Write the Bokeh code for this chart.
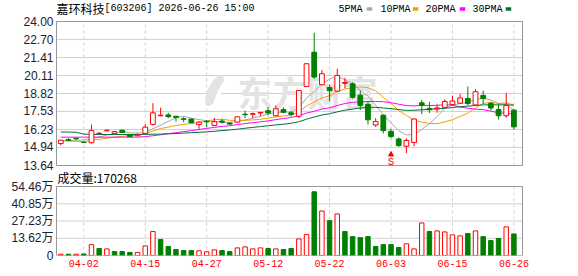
from bokeh.plotting import figure
from bokeh.models import Range1d, FixedTicker, ColumnDataSource
from bokeh.embed import file_html
from bokeh.resources import INLINE
from bokeh.core.properties import value

# ---------------- data ----------------
opens = [15.22, 15.50, 15.60, 15.32, 15.28, 15.93, 16.14, 15.95, 16.18, 15.87,
         15.78, 15.95, 16.60, 17.22, 17.28, 17.18, 17.00, 16.98, 16.58, 16.82,
         16.52, 16.84, 16.70, 16.76, 17.33, 17.33, 17.42, 17.58, 17.22, 17.66,
         17.43, 17.18, 19.32, 21.79, 19.45, 19.25, 18.99, 19.55, 19.52, 18.70,
         18.03, 16.55, 17.26, 16.10, 15.55, 15.03, 15.30, 18.15, 17.75, 17.72,
         17.82, 18.02, 18.12, 18.46, 18.00, 18.68, 18.10, 17.67, 17.22, 17.62]
highs = [15.48, 15.62, 15.66, 15.36, 16.58, 16.05, 16.24, 16.10, 16.20, 15.88,
         15.95, 16.62, 18.12, 17.80, 17.43, 17.22, 17.12, 17.02, 16.82, 16.88,
         17.07, 16.98, 16.72, 17.16, 17.58, 17.45, 17.48, 17.83, 17.95, 17.83,
         17.58, 19.06, 21.00, 23.19, 20.50, 19.45, 20.60, 19.95, 19.62, 19.03,
         18.25, 17.05, 17.30, 16.28, 15.65, 15.60, 17.02, 18.35, 18.22, 18.03,
         18.40, 18.66, 18.78, 19.32, 19.15, 19.02, 18.24, 18.10, 18.87, 17.70]
lows = [15.10, 15.40, 15.48, 15.26, 15.22, 15.85, 16.10, 15.92, 16.00, 15.70,
        15.75, 15.92, 16.52, 17.18, 17.05, 16.80, 16.76, 16.68, 16.28, 16.40,
        16.48, 16.65, 16.58, 16.72, 17.05, 17.05, 17.19, 17.26, 17.18, 17.40,
        17.18, 17.05, 19.28, 19.88, 19.42, 18.24, 18.97, 19.20, 18.45, 17.63,
        16.59, 16.42, 15.95, 15.60, 14.98, 14.53, 15.03, 17.33, 17.42, 17.43,
        17.78, 17.98, 18.08, 17.96, 17.95, 18.08, 17.60, 16.95, 17.08, 16.22]
closes = [15.46, 15.45, 15.56, 15.30, 16.15, 15.96, 16.17, 16.08, 16.02, 15.72,
          15.85, 16.40, 17.43, 17.26, 17.15, 17.10, 16.96, 16.72, 16.76, 16.78,
          16.80, 16.76, 16.62, 17.14, 17.30, 17.37, 17.46, 17.42, 17.72, 17.47,
          17.32, 19.04, 20.96, 20.00, 20.24, 19.02, 20.12, 19.62, 18.55, 17.96,
          16.93, 16.80, 16.15, 15.72, 15.08, 15.44, 16.98, 17.98, 17.65, 17.78,
          18.24, 18.28, 18.50, 18.10, 18.95, 18.46, 17.78, 17.22, 17.96, 16.42]
volumes = [1.0, 1.0, 1.0, 1.2, 8.6, 5.5, 5.2, 3.1, 3.1, 2.4,
           2.4, 7.6, 18.9, 12.6, 7.1, 4.7, 3.9, 3.9, 3.7, 2.9,
           4.4, 3.9, 3.1, 6.0, 6.8, 5.2, 6.0, 5.5, 5.2, 4.7,
           5.5, 13.1, 16.5, 50.3, 35.1, 27.5, 32.8, 18.9, 14.9, 14.1,
           14.9, 7.1, 8.6, 8.6, 6.3, 9.2, 5.2, 25.7, 18.9, 19.4,
           18.6, 16.3, 15.5, 17.3, 19.4, 14.9, 11.8, 13.4, 22.6, 17.03]
ma5 = [15.45, 15.42, 15.45, 15.48, 15.58, 15.69, 15.83, 15.93, 16.08, 15.99,
       15.97, 16.01, 16.28, 16.53, 16.82, 17.07, 17.18, 17.04, 16.94, 16.86,
       16.80, 16.76, 16.74, 16.82, 16.92, 17.04, 17.18, 17.34, 17.45, 17.49,
       17.48, 17.79, 18.50, 18.96, 19.51, 19.85, 20.07, 19.80, 19.51, 19.05,
       18.64, 17.97, 17.28, 16.71, 16.14, 15.84, 15.87, 16.24, 16.63, 17.17,
       17.73, 17.99, 18.09, 18.18, 18.41, 18.46, 18.36, 18.10, 18.07, 17.57]
ma10 = [15.42, 15.40, 15.38, 15.35, 15.45, 15.52, 15.60, 15.68, 15.74, 15.79,
        15.83, 15.92, 16.11, 16.30, 16.40, 16.52, 16.60, 16.66, 16.74, 16.84,
        16.94, 16.97, 16.89, 16.88, 16.89, 16.92, 16.97, 17.04, 17.14, 17.21,
        17.26, 17.49, 17.92, 18.21, 18.50, 18.67, 18.93, 19.15, 19.23, 19.28,
        19.24, 19.02, 18.54, 18.11, 17.60, 17.24, 16.92, 16.76, 16.67, 16.65,
        16.78, 16.93, 17.17, 17.40, 17.79, 18.10, 18.18, 18.11, 18.14, 18.00]
ma20 = [15.68, 15.68, 15.68, 15.68, 15.68, 15.68, 15.68, 15.68, 15.68, 15.68,
        15.68, 15.72, 15.78, 15.85, 15.93, 16.00, 16.08, 16.15, 16.23, 16.31,
        16.38, 16.45, 16.50, 16.59, 16.65, 16.72, 16.78, 16.85, 16.94, 17.02,
        17.10, 17.23, 17.41, 17.54, 17.70, 17.79, 17.95, 18.10, 18.19, 18.24,
        18.25, 18.25, 18.23, 18.16, 18.05, 17.95, 17.93, 17.96, 17.95, 17.97,
        18.01, 17.98, 17.85, 17.76, 17.69, 17.66, 17.55, 17.43, 17.40, 17.32]
ma30 = [16.05, 16.05, 16.03, 15.90, 15.88, 15.87, 15.87, 15.87, 15.87, 15.87,
        15.87, 15.88, 15.89, 15.90, 15.92, 15.94, 15.97, 16.00, 16.03, 16.06,
        16.10, 16.15, 16.20, 16.25, 16.32, 16.38, 16.44, 16.50, 16.56, 16.61,
        16.68, 16.79, 16.97, 17.13, 17.27, 17.37, 17.50, 17.62, 17.70, 17.78,
        17.81, 17.83, 17.78, 17.73, 17.66, 17.61, 17.61, 17.65, 17.68, 17.71,
        17.76, 17.81, 17.87, 17.91, 17.96, 18.00, 18.01, 18.00, 18.01, 17.98]
tick_index = [3, 11, 19, 27, 35, 43, 51, 59]
tick_labels = ["04-02", "04-15", "04-27", "05-12", "05-22", "06-03", "06-15", "06-26"]
price_ticks = [13.64, 14.94, 16.23, 17.53, 18.82, 20.11, 21.41, 22.70, 24.00]
vol_ticks = [0, 13.62, 27.23, 40.85, 54.46]
vol_tick_labels = ["0", "13.62万", "27.23万", "40.85万", "54.46万"]
ma_names = ["5PMA", "10PMA", "20PMA", "30PMA"]
ma_colors = ["#a8a8a8", "#f0a000", "#ff00ff", "#00703a"]
title_name = "嘉环科技"
title_rest = "[603206] 2026-06-26 15:00"
vol_title = "成交量:170268"
event_index = 43
event_text = "S"
watermark = "东方财富"

# ---------------- layout constants (px) ----------------
RED = "#ff0000"
GREEN = "#008000"
GRID = "#d0d0d0"
BORDER = "#999999"
WM = "#e3e3e3"
W, H = 578, 276
FL, FR = 56, 522            # panel left / right
PT, PB = 21, 165            # price panel top / bottom
VT, VB = 186, 255           # volume panel top / bottom
X0, X1 = -0.555, 60.12      # index range across FL..FR
PMIN, PMAX = price_ticks[0], price_ticks[-1]
VMAX = vol_ticks[-1]

DX = (X1 - X0) / (FR - FL)  # index units per px


def xd(px):
    return X0 + (px - FL) * DX


def py_price(v):
    return PT + (PMAX - v) * (PB - PT) / (PMAX - PMIN)


def py_vol(v):
    return VB - v * (VB - VT) / VMAX


def price_at(py):
    return PMAX - (py - PT) * (PMAX - PMIN) / (PB - PT)


def vol_at(py):
    return VMAX * (VB - py) / (VB - VT)


# one canvas: frame spans 55..523 x 0..255, default y range is in px (downwards)
p = figure(width=W, height=H, output_backend="svg", toolbar_location=None,
           x_range=Range1d(X0 - DX, X1 + DX), y_range=Range1d(VB, 0),
           min_border=0, min_border_left=FL - 1, min_border_right=W - FR - 1,
           min_border_top=0, min_border_bottom=H - VB)
p.extra_y_ranges = {
    "price": Range1d(price_at(VB), price_at(0)),
    "vol": Range1d(0, vol_at(0)),
}
p.background_fill_color = "white"
p.border_fill_color = "white"
p.outline_line_color = None
p.grid.visible = False

# left axis: price labels and volume labels on one axis
ytick_pos = [py_price(t) for t in price_ticks] + [py_vol(t) for t in vol_ticks]
ytick_txt = [f"{t:.2f}" for t in price_ticks] + vol_tick_labels
p.yaxis.ticker = FixedTicker(ticks=ytick_pos)
p.yaxis.major_label_overrides = dict(zip(ytick_pos, ytick_txt))
for ax in [p.yaxis[0], p.xaxis[0]]:
    ax.axis_line_color = None
    ax.major_tick_line_color = None
    ax.minor_tick_line_color = None
    ax.major_tick_out = 0
    ax.major_tick_in = 0
    ax.minor_tick_out = 0
    ax.minor_tick_in = 0
p.yaxis.major_label_standoff = 2
p.yaxis.major_label_text_font = "Liberation Sans, Noto Sans CJK SC"
p.yaxis.major_label_text_font_size = "12px"
p.yaxis.major_label_text_color = "#1c2030"
p.xaxis.ticker = FixedTicker(ticks=tick_index)
p.xaxis.major_label_overrides = dict(zip(tick_index, tick_labels))
p.xaxis.major_label_standoff = 4
p.xaxis.major_label_text_font = "Liberation Mono"
p.xaxis.major_label_text_font_size = "10px"
p.xaxis.major_label_text_color = RED

# ---------------- grids ----------------
p.segment(x0=[X0] * len(price_ticks), x1=[X1] * len(price_ticks), y0=price_ticks,
          y1=price_ticks, y_range_name="price", line_color=GRID, line_width=1)
p.segment(x0=[X0] * len(vol_ticks), x1=[X1] * len(vol_ticks), y0=vol_ticks,
          y1=vol_ticks, y_range_name="vol", line_color=GRID, line_width=1)
p.segment(x0=tick_index, x1=tick_index, y0=[PMIN] * len(tick_index),
          y1=[PMAX] * len(tick_index), y_range_name="price", line_color=GRID,
          line_width=1, line_dash="3 3")
p.segment(x0=tick_index, x1=tick_index, y0=[0] * len(tick_index),
          y1=[VMAX] * len(tick_index), y_range_name="vol", line_color=GRID,
          line_width=1, line_dash="3 3")

# watermark (leaf logo + name)
p.ellipse(x=[xd(214)], y=[90], width=13, height=34, angle=-0.45,
          width_units="screen", height_units="screen",
          fill_color=WM, line_color=None)
p.ellipse(x=[xd(219)], y=[92], width=4, height=26, angle=-0.45,
          width_units="screen", height_units="screen",
          fill_color="white", line_color=None)
p.text(x=[xd(237)], y=[91], text=[watermark], text_font=value("Noto Sans CJK SC"),
       text_font_size="35px", text_font_style="bold", text_color=WM,
       text_baseline="middle")

# ---------------- price panel ----------------
n = len(closes)
idx = list(range(n))
up = [c >= o for o, c in zip(opens, closes)]
vol_up = [up[0]] + [closes[i] >= closes[i - 1] for i in range(1, n)]

for vals, col in zip([ma5, ma10, ma20, ma30], ma_colors):
    p.line(idx, vals, line_color=col, line_width=1, y_range_name="price")


def cdict(mask):
    return dict(x=[i for i in idx if mask[i]],
                o=[opens[i] for i in idx if mask[i]],
                c=[closes[i] for i in idx if mask[i]],
                h=[highs[i] for i in idx if mask[i]],
                l=[lows[i] for i in idx if mask[i]])


src_up = ColumnDataSource(cdict(up))
src_dn = ColumnDataSource(cdict([not u for u in up]))
p.segment(x0="x", y0="l", x1="x", y1="h", source=src_up, line_color=RED,
          line_width=1, y_range_name="price")
p.segment(x0="x", y0="l", x1="x", y1="h", source=src_dn, line_color=GREEN,
          line_width=1, y_range_name="price")
p.vbar(x="x", bottom="o", top="c", width=0.62, source=src_up, y_range_name="price",
       fill_color="white", line_color=RED, line_width=1)
p.vbar(x="x", bottom="c", top="o", width=0.62, source=src_dn, y_range_name="price",
       fill_color=GREEN, line_color=GREEN, line_width=1)

# event marker under 06-03
p.scatter(x=[event_index], y=[154], marker="triangle", size=5, color=RED)
p.text(x=[event_index], y=[161], text=[event_text], text_font=value("Liberation Mono"),
       text_font_size="11px", text_color=RED, text_align="center",
       text_baseline="middle")

# ---------------- volume panel ----------------
vsrc_up = ColumnDataSource(dict(x=[i for i in idx if vol_up[i]],
                                v=[volumes[i] for i in idx if vol_up[i]]))
vsrc_dn = ColumnDataSource(dict(x=[i for i in idx if not vol_up[i]],
                                v=[volumes[i] for i in idx if not vol_up[i]]))
p.vbar(x="x", top="v", bottom=0, width=0.58, source=vsrc_up, y_range_name="vol",
       fill_color="white", line_color=RED, line_width=1)
p.vbar(x="x", top="v", bottom=0, width=0.58, source=vsrc_dn, y_range_name="vol",
       fill_color=GREEN, line_color=GREEN, line_width=1)

# panel borders
p.quad(left=[X0], right=[X1], bottom=[PMIN], top=[PMAX], y_range_name="price",
       fill_color=None, line_color=BORDER, line_width=1)
p.quad(left=[X0], right=[X1], bottom=[0], top=[VMAX], y_range_name="vol",
       fill_color=None, line_color=BORDER, line_width=1)

# ---------------- texts ----------------
p.text(x=[xd(FL)], y=[8], text=[title_name], text_font=value("Noto Sans CJK SC"),
       text_font_size="12px", text_color="black", text_baseline="middle")
p.text(x=[xd(104)], y=[8], text=[title_rest], text_font=value("Liberation Mono"),
       text_font_size="10px", text_color="black", text_baseline="middle")
leg_text_px = [338, 380, 425, 472]
leg_box_px = [369, 415, 462, 508]
p.text(x=[xd(t) for t in leg_text_px], y=[8.5] * 4, text=ma_names,
       text_font=value("Liberation Mono"), text_font_size="10px",
       text_color="black", text_baseline="middle")
p.rect(x=[xd(b) for b in leg_box_px], y=[8.5] * 4, width=5.5, height=3.5,
       width_units="screen", height_units="screen", fill_color=ma_colors,
       line_color=None)
p.text(x=[xd(57)], y=[177], text=[vol_title], text_font=value("Noto Sans CJK SC"),
       text_font_size="12px", text_color="black", text_baseline="middle")

open("out.html", "w").write(file_html(p, INLINE))
